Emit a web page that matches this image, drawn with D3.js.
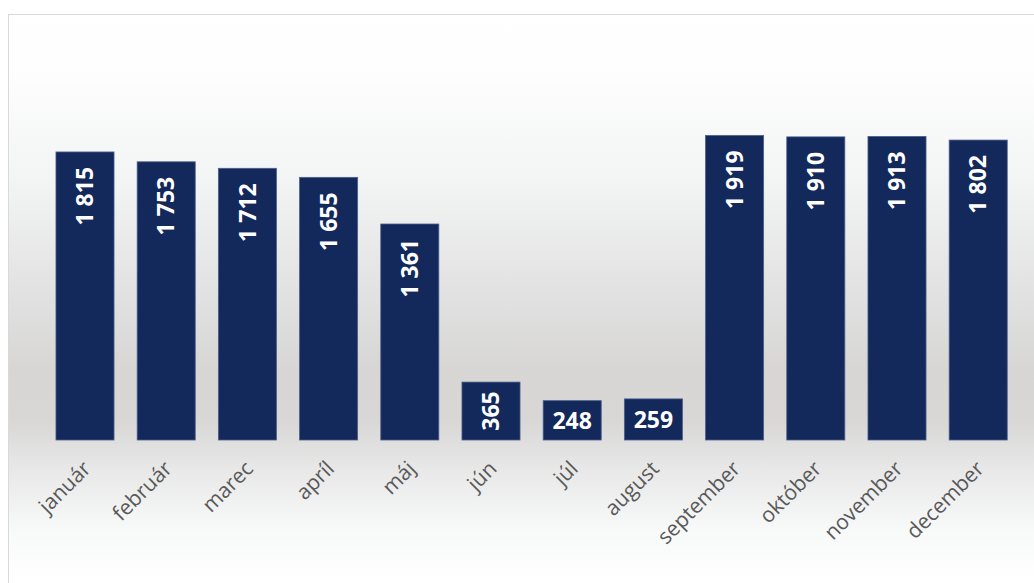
<!DOCTYPE html>
<html>
<head>
<meta charset="utf-8">
<script src="https://cdn.jsdelivr.net/npm/d3@7"></script>
<style>
  html, body { margin: 0; padding: 0; background: #fff; overflow: hidden; }
</style>
</head>
<body>
<div id="chart"></div>
<script>
var months = ['január', 'február', 'marec', 'apríl', 'máj', 'jún', 'júl', 'august', 'september', 'október', 'november', 'december'];
// bar heights as drawn in the picture
var values = [1815, 1753, 1712, 1655, 1361, 365, 248, 259, 1919, 1910, 1913, 1890];
// numbers printed on the bars
var labels = [1815, 1753, 1712, 1655, 1361, 365, 248, 259, 1919, 1910, 1913, 1802];
// labels for the small bars are written horizontally
var horizontalLabels = ['júl', 'august'];

var width = 1034, height = 583;
var svg = d3.select('#chart').append('svg').attr('width', width).attr('height', height);

// background gradient of the chart area
var grad = svg.append('defs').append('linearGradient')
    .attr('id', 'bg').attr('gradientUnits', 'userSpaceOnUse')
    .attr('x1', 0).attr('y1', 14).attr('x2', 0).attr('y2', 583);
[[14, '#ffffff'], [80, '#fdfdfd'], [180, '#f3f4f4'], [290, '#e2e2e2'], [370, '#d7d6d5'],
 [420, '#d8d7d6'], [470, '#e8e8e8'], [530, '#f8f9f9'], [583, '#ffffff']].forEach(function(s) {
    grad.append('stop').attr('offset', (s[0] - 14) / (583 - 14)).attr('stop-color', s[1]);
});

svg.append('rect')
    .attr('x', 8.5).attr('y', 14.5).attr('width', 1040).attr('height', 600)
    .attr('fill', 'url(#bg)').attr('stroke', '#d9d9d9').attr('stroke-width', 1);

var x = d3.scaleBand().domain(months).range([44.4, 1018.8]).paddingInner(0.285).paddingOuter(0.1425);
var y = d3.scaleLinear().domain([0, 2000]).range([440, 122.6]);

var bars = svg.append('g').selectAll('g').data(values).enter().append('g');

bars.append('rect')
    .attr('x', function(d, i) { return x(months[i]); })
    .attr('y', function(d) { return y(d); })
    .attr('width', x.bandwidth())
    .attr('height', function(d) { return y(0) - y(d); })
    .attr('fill', '#13285b')
    .attr('stroke', '#4d5f8c')
    .attr('stroke-width', 0.8);

var fmt = function(v) { return d3.format(',')(v).replace(/,/g, ' '); };

bars.append('text')
    .text(function(d, i) { return fmt(labels[i]); })
    .attr('fill', '#ffffff')
    .attr('font-family', '"Open Sans", sans-serif')
    .attr('font-weight', 'bold')
    .attr('font-size', '23px')
    .each(function(d, i) {
        var t = d3.select(this);
        var cx = x(months[i]) + x.bandwidth() / 2;
        var top = y(d), h = y(0) - y(d);
        if (horizontalLabels.indexOf(months[i]) >= 0) {
            t.attr('x', cx).attr('y', top + h / 2).attr('text-anchor', 'middle').attr('dy', '0.36em');
        } else {
            var len = this.getComputedTextLength();
            var off = Math.min(15, (h - len) / 2);
            t.attr('text-anchor', 'end').attr('dy', '0.36em')
             .attr('transform', 'translate(' + cx + ',' + (top + off) + ') rotate(-90)');
        }
    });

// category axis
var xAxis = svg.append('g').attr('transform', 'translate(0,440)')
    .call(d3.axisBottom(x).tickSize(0).tickPadding(0));
xAxis.select('.domain').remove();
xAxis.selectAll('text')
    .attr('fill', '#595959')
    .attr('font-family', '"Open Sans", sans-serif')
    .attr('font-size', '21px')
    .attr('text-anchor', 'end')
    .attr('dy', null)
    .attr('transform', 'translate(7,30) rotate(-45)');
</script>
</body>
</html>
